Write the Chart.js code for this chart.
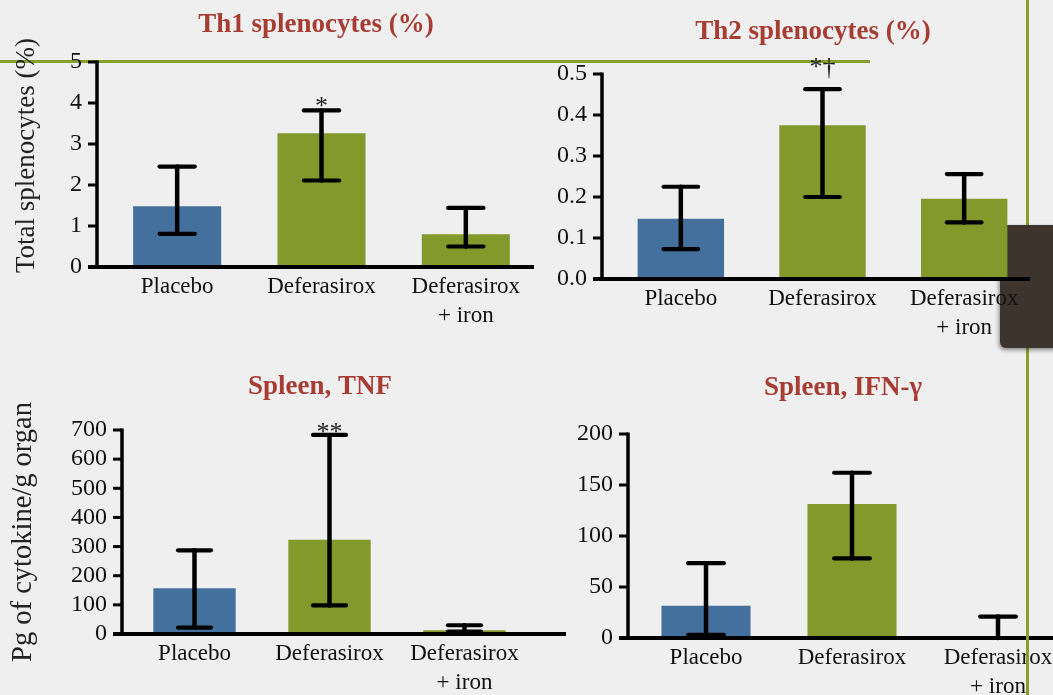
<!DOCTYPE html>
<html>
<head>
<meta charset="utf-8">
<script src="https://cdn.jsdelivr.net/npm/chart.js@4.4.1/dist/chart.umd.min.js"></script>
<style>
html, body { margin:0; padding:0; width:1053px; height:695px; overflow:hidden; background:#efefef; position:relative; }
canvas { position:absolute; }
#hline { position:absolute; left:0; top:60px; width:870px; height:3px; background:#86a02b; z-index:2; }
#vline { position:absolute; left:1026px; top:0; width:3px; height:695px; background:#86a02b; z-index:2; }
#brown { position:absolute; left:1000px; top:225px; width:60px; height:123px; background:#3d342d; z-index:3;
         box-shadow:-1px 2px 4px rgba(0,0,0,0.45); border-bottom-left-radius:6px; }
</style>
</head>
<body>
<div id="hline"></div>
<div id="vline"></div>
<div id="brown"></div>
<canvas id="p1" width="560" height="345" style="left:0;top:0;z-index:4"></canvas>
<canvas id="p2" width="513" height="345" style="left:540px;top:0;z-index:4"></canvas>
<canvas id="p3" width="580" height="335" style="left:0;top:360px;z-index:4"></canvas>
<canvas id="p4" width="520" height="335" style="left:560px;top:360px;z-index:1"></canvas>
<script>
// ---- data ----
const categories = ['Placebo', 'Deferasirox', ['Deferasirox', '+ iron']];

const th1Mean = [1.48, 3.26, 0.80];
const th1Low  = [0.81, 2.11, 0.50];
const th1High = [2.45, 3.82, 1.44];
const th1Marks = ['', '*', ''];
const th1Ticks = [0, 1, 2, 3, 4, 5];
const th1TickLabels = ['0', '1', '2', '3', '4', '5'];

const th2Mean = [0.147, 0.375, 0.196];
const th2Low  = [0.073, 0.200, 0.138];
const th2High = [0.225, 0.463, 0.256];
const th2Marks = ['', '*\u2020', ''];
const th2Ticks = [0, 0.1, 0.2, 0.3, 0.4, 0.5];
const th2TickLabels = ['0.0', '0.1', '0.2', '0.3', '0.4', '0.5'];

const tnfMean = [157, 323, 13];
const tnfLow  = [22, 98, 8];
const tnfHigh = [287, 683, 30];
const tnfMarks = ['', '**', ''];
const tnfTicks = [0, 100, 200, 300, 400, 500, 600, 700];
const tnfTickLabels = ['0', '100', '200', '300', '400', '500', '600', '700'];

const ifnMean = [31.6, 131.4, 1];
const ifnLow  = [3, 78, 0];
const ifnHigh = [73.4, 162, 21];
const ifnMarks = ['', '', ''];
const ifnTicks = [0, 50, 100, 150, 200];
const ifnTickLabels = ['0', '50', '100', '150', '200'];

// ---- styles ----
const SERIF = '"Liberation Serif", "Times New Roman", serif';
const barColors = ['#44709d', '#84992c', '#84992c'];
const titleColor = '#a63c32';

function decor(cfg) {
  return {
    id: 'decor',
    afterDraw(chart) {
      const ctx = chart.ctx, a = chart.chartArea, ys = chart.scales.y;
      const meta = chart.getDatasetMeta(0);
      const axisX = a.left - cfg.gap;
      const y0 = ys.getPixelForValue(cfg.ticks[0]);
      const yTop = ys.getPixelForValue(cfg.ticks[cfg.ticks.length - 1]);
      ctx.save();
      ctx.strokeStyle = '#000';
      ctx.lineCap = 'butt';
      // y axis line
      ctx.lineWidth = 3.5;
      ctx.beginPath(); ctx.moveTo(axisX, yTop - 1.5); ctx.lineTo(axisX, y0); ctx.stroke();
      // y tick marks
      ctx.lineWidth = 3;
      cfg.ticks.forEach(v => {
        const y = ys.getPixelForValue(v);
        ctx.beginPath(); ctx.moveTo(axisX - 9, y); ctx.lineTo(axisX, y); ctx.stroke();
      });
      // x axis line
      ctx.lineWidth = 4;
      ctx.beginPath(); ctx.moveTo(axisX - 9, y0); ctx.lineTo(a.right + cfg.xExtra, y0); ctx.stroke();
      // error bars
      ctx.lineCap = 'round';
      meta.data.forEach((bar, i) => {
        const x = bar.x;
        const hi = ys.getPixelForValue(cfg.high[i]);
        const lo = ys.getPixelForValue(cfg.low[i]);
        const cw = bar.width * 0.2;
        ctx.lineWidth = 4.5;
        ctx.beginPath(); ctx.moveTo(x, hi); ctx.lineTo(x, lo); ctx.stroke();
        ctx.lineWidth = 4.2;
        ctx.beginPath(); ctx.moveTo(x - cw, hi); ctx.lineTo(x + cw, hi); ctx.stroke();
        ctx.beginPath(); ctx.moveTo(x - cw, lo); ctx.lineTo(x + cw, lo); ctx.stroke();
        if (cfg.marks[i]) {
          ctx.font = '26px ' + SERIF;
          ctx.fillStyle = '#222';
          ctx.textAlign = 'center';
          ctx.textBaseline = 'alphabetic';
          ctx.fillText(cfg.marks[i], x, hi - cfg.markLift + 6);
        }
      });
      // panel title
      ctx.font = 'bold 27px ' + SERIF;
      ctx.fillStyle = titleColor;
      ctx.textAlign = 'center';
      ctx.textBaseline = 'middle';
      ctx.fillText(cfg.title, (a.left + a.right) / 2 + cfg.titleDx, a.top - cfg.titleLift);
      // y axis title
      if (cfg.yTitle) {
        ctx.translate(cfg.yTitleX, (a.top + a.bottom) / 2 + cfg.yTitleDy);
        ctx.rotate(-Math.PI / 2);
        ctx.font = cfg.yTitleSize + 'px ' + SERIF;
        ctx.fillStyle = '#222';
        ctx.fillText(cfg.yTitle, 0, 0);
      }
      ctx.restore();
    }
  };
}

function makePanel(id, cfg) {
  return new Chart(document.getElementById(id), {
    type: 'bar',
    data: {
      labels: categories,
      datasets: [{
        data: cfg.mean,
        backgroundColor: barColors,
        borderWidth: 0,
        barPercentage: 0.61,
        categoryPercentage: 1
      }]
    },
    options: {
      responsive: false,
      animation: false,
      devicePixelRatio: 1,
      layout: { padding: cfg.pad },
      plugins: { legend: { display: false }, tooltip: { enabled: false }, title: { display: false } },
      scales: {
        x: {
          type: 'category',
          grid: { display: false, drawTicks: false },
          border: { display: false },
          ticks: { font: { family: SERIF, size: 23, lineHeight: 1.25 }, color: '#111', padding: 6, maxRotation: 0, minRotation: 0, autoSkip: false },
          afterFit: s => { s.height = cfg.xH; }
        },
        y: {
          min: cfg.ticks[0],
          max: cfg.ticks[cfg.ticks.length - 1],
          grid: { display: false, drawTicks: false },
          border: { display: false },
          afterBuildTicks: s => { s.ticks = cfg.ticks.map(v => ({ value: v })); },
          ticks: {
            font: { family: SERIF, size: 24 }, color: '#111', padding: cfg.gap + 15,
            autoSkip: false,
            callback: (v, i) => cfg.tickLabels[i]
          },
          afterFit: s => { s.width = cfg.yW; }
        }
      }
    },
    plugins: [decor(cfg)]
  });
}

makePanel('p1', {
  mean: th1Mean, low: th1Low, high: th1High, marks: th1Marks, ticks: th1Ticks, tickLabels: th1TickLabels,
  title: 'Th1 splenocytes (%)', yTitle: 'Total splenocytes (%)', yTitleSize: 27,
  pad: { left: 0, top: 62, right: 22, bottom: 0 }, yW: 105, xH: 78, gap: 8, xExtra: -4,
  titleDx: -5.5, titleLift: 37, yTitleX: 27, yTitleDy: -9, markLift: 2
});
makePanel('p2', {
  mean: th2Mean, low: th2Low, high: th2High, marks: th2Marks, ticks: th2Ticks, tickLabels: th2TickLabels,
  title: 'Th2 splenocytes (%)',
  pad: { left: 0, top: 74, right: 18, bottom: 0 }, yW: 70, xH: 66, gap: 8, xExtra: -5,
  titleDx: -9.5, titleLift: 42, markLift: 20
});
makePanel('p3', {
  mean: tnfMean, low: tnfLow, high: tnfHigh, marks: tnfMarks, ticks: tnfTicks, tickLabels: tnfTickLabels,
  title: 'Spleen, TNF', yTitle: 'Pg of cytokine/g organ', yTitleSize: 28.5,
  pad: { left: 0, top: 70, right: 48, bottom: 0 }, yW: 127, xH: 61, gap: 5, xExtra: 34,
  titleDx: -9.5, titleLift: 43, yTitleX: 24, yTitleDy: 0, markLift: 1
});
makePanel('p4', {
  mean: ifnMean, low: ifnLow, high: ifnHigh, marks: ifnMarks, ticks: ifnTicks, tickLabels: ifnTickLabels,
  title: 'Spleen, IFN-\u03b3',
  pad: { left: 0, top: 74, right: 9, bottom: 0 }, yW: 73, xH: 57, gap: 5, xExtra: 20,
  titleDx: -9, titleLift: 46, markLift: 2
});
</script>
</body>
</html>
